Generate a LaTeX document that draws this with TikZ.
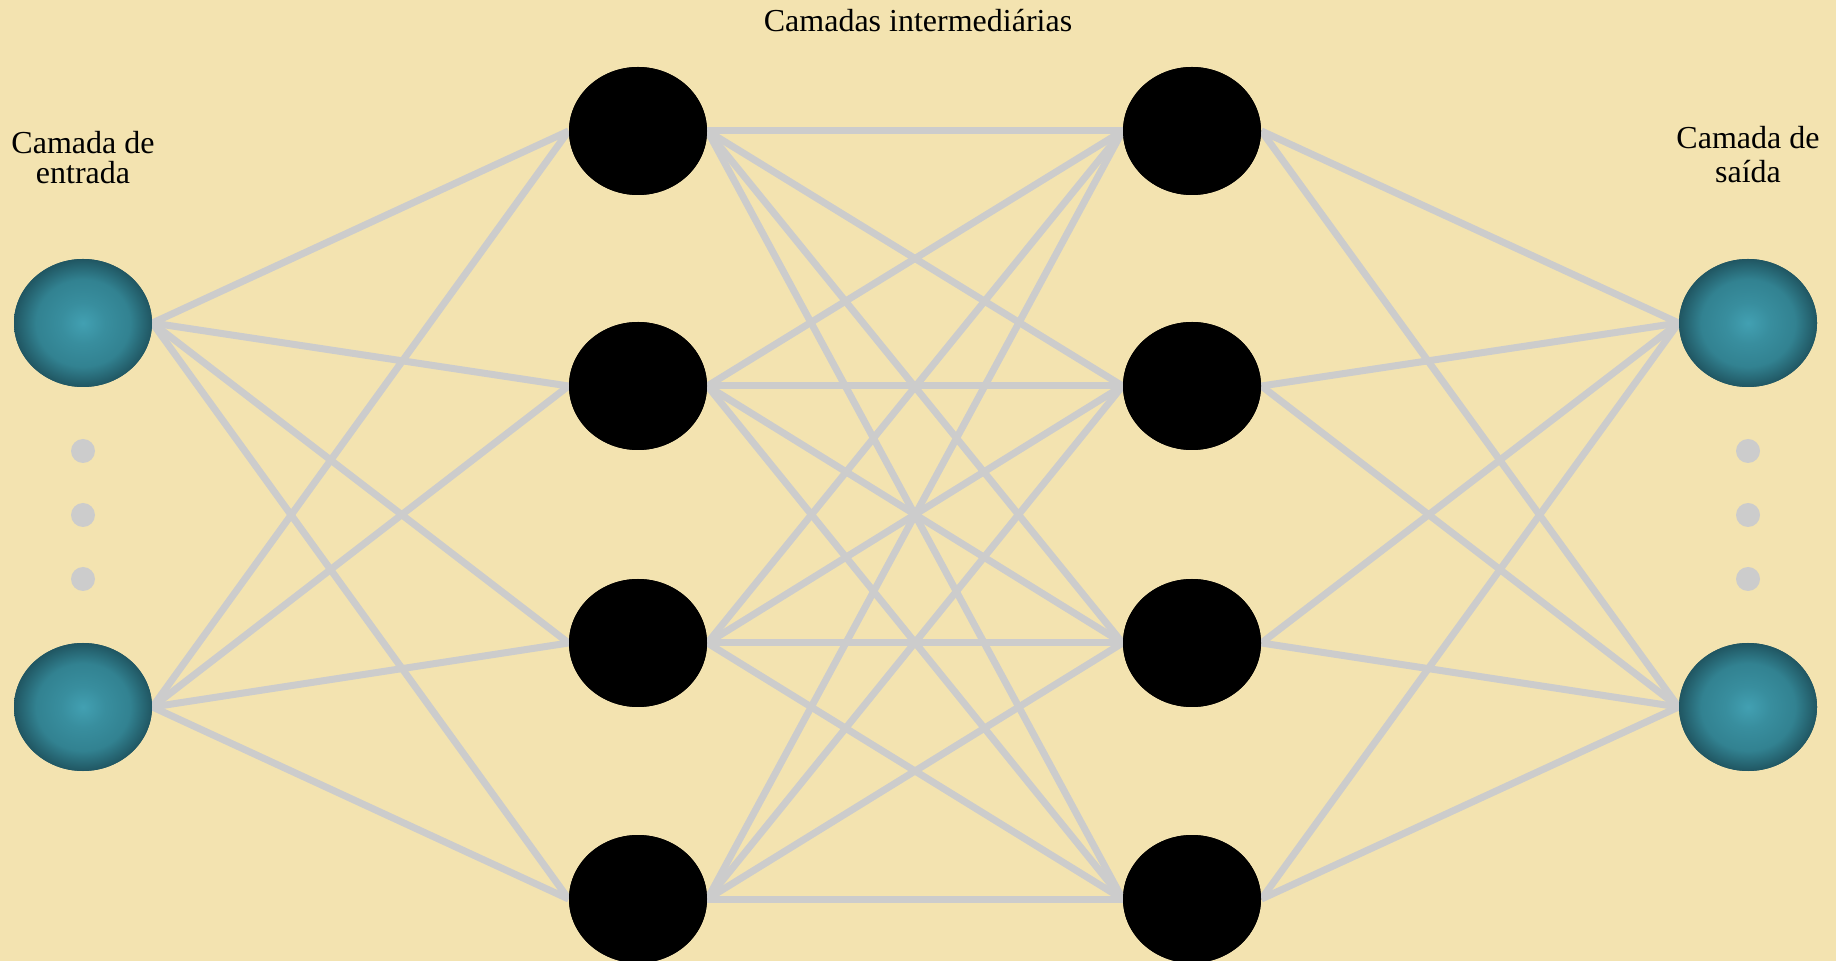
\documentclass[tikz,border=0pt]{standalone}
\usepackage{fontspec}
\setmainfont{Liberation Serif}
\usetikzlibrary{shapes.geometric}
\definecolor{bg}{RGB}{243,227,176}
\definecolor{conn}{RGB}{204,204,204}
\definecolor{tealin}{RGB}{66,160,178}
\definecolor{tealmid}{RGB}{50,130,145}
\definecolor{tealout}{RGB}{32,86,98}
\pgfdeclareradialshading{tealball}{\pgfpoint{0bp}{0bp}}{color(0bp)=(tealin); color(8bp)=(tealmid!60!tealin); color(17bp)=(tealmid); color(25bp)=(tealout); color(50bp)=(tealout)}
\tikzset{
  neuron/.style={ellipse, minimum width=69pt, minimum height=64pt, inner sep=0pt},
  hidden/.style={neuron, fill=black},
  io/.style={neuron, shading=tealball},
  conn/.style={draw=conn, line width=3.5pt},
  dot/.style={circle, fill=conn, minimum size=12pt, inner sep=0pt},
  lbl/.style={font=\fontsize{16pt}{15pt}\selectfont, align=center, inner sep=0pt}
}
\begin{document}
\begin{tikzpicture}[x=0.5pt,y=-0.5pt]
\fill[bg] (0,0) rectangle (1836,961);
\useasboundingbox (0,0) rectangle (1836,961);
\clip (0,0) rectangle (1836,961);
% node positions
\node[io] (i1) at (83,323) {};
\node[io] (i2) at (83,707) {};
\foreach \k/\y in {1/131,2/386,3/643,4/899}{
  \node[hidden] (h\k) at (638,\y) {};
  \node[hidden] (g\k) at (1192,\y) {};
}
\node[io] (o1) at (1748,323) {};
\node[io] (o2) at (1748,707) {};
% dots
\node[dot] (di1) at (83,451) {};
\node[dot] (di2) at (83,515) {};
\node[dot] (di3) at (83,579) {};
\node[dot] (do1) at (1748,451) {};
\node[dot] (do2) at (1748,515) {};
\node[dot] (do3) at (1748,579) {};
% connectors
\foreach \a in {1,2}{
  \foreach \b in {1,2,3,4}{
    \draw[conn] (i\a.east) -- (h\b.west);
    \draw[conn] (g\b.east) -- (o\a.west);
  }
}
\foreach \a in {1,2,3,4}{
  \foreach \b in {1,2,3,4}{
    \draw[conn] (h\a.east) -- (g\b.west);
  }
}
% nodes on top of connectors
\node[io] at (i1) {};
\node[io] at (i2) {};
\foreach \k in {1,2,3,4}{
  \node[hidden] at (h\k) {};
  \node[hidden] at (g\k) {};
}
\node[io] at (o1) {};
\node[io] at (o2) {};
% labels
\node[lbl] (t1) at (83,158) {Camada de\\entrada};
\node[lbl, font=\fontsize{16pt}{17pt}\selectfont] (t2) at (1748,155) {Camada de\\saída};
\node[lbl] (t3) at (918,21) {Camadas intermediárias};
\end{tikzpicture}
\end{document}
